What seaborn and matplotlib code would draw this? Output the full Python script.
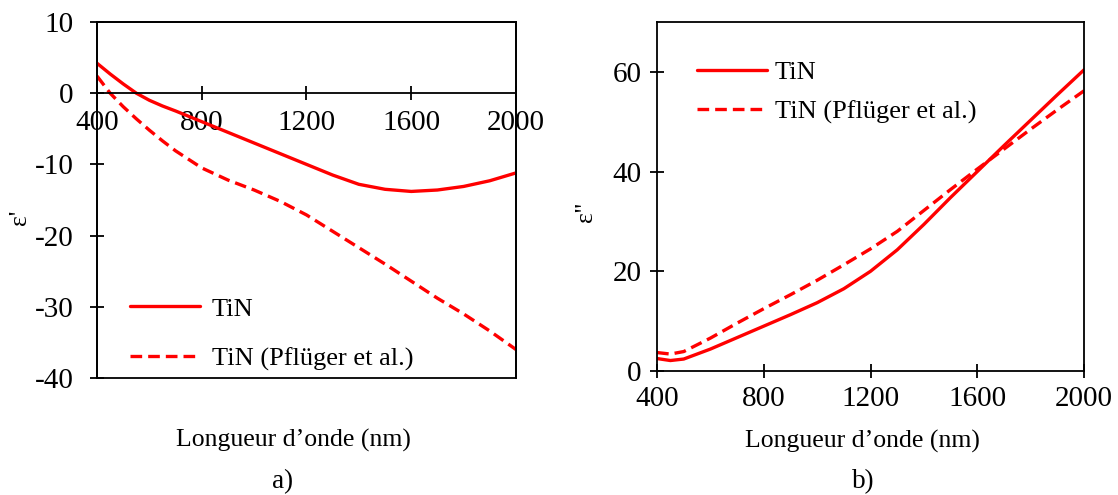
import matplotlib
matplotlib.use('Agg')
import matplotlib.pyplot as plt
import seaborn as sns
import pandas as pd

# longueurs d'onde (nm)
lambda_a = [400, 450, 500, 550, 600, 650, 700, 800, 900, 1000, 1100, 1200, 1300,
            1400, 1500, 1600, 1700, 1800, 1900, 2000]
lambda_b = [400, 450, 500, 600, 700, 800, 900, 1000, 1100, 1200, 1300, 1400,
            1500, 1600, 1700, 1800, 1900, 2000]

# partie réelle (a)
eps1_tin = [4.2, 2.7, 1.3, 0.0, -1.0, -1.8, -2.5, -4.0, -5.5, -7.0, -8.5, -10.0, -11.5,
            -12.8, -13.5, -13.8, -13.6, -13.1, -12.3, -11.2]
eps1_pfluger = [2.4, 0.0, -1.9, -3.6, -5.2, -6.7, -8.1, -10.5, -12.2, -13.6, -15.2, -17.1, -19.4,
                -21.7, -24.0, -26.4, -28.8, -31.0, -33.4, -36.0]

# partie imaginaire (b)
eps2_tin = [2.5, 2.1, 2.4, 4.4, 6.7, 9.0, 11.3, 13.7, 16.5, 20.0, 24.3, 29.4,
            34.8, 40.0, 45.2, 50.3, 55.4, 60.4]
eps2_pfluger = [3.7, 3.4, 3.9, 6.6, 9.6, 12.5, 15.3, 18.2, 21.3, 24.5, 28.0, 32.2,
                36.4, 40.5, 44.5, 48.5, 52.4, 56.2]

labels = ['TiN', 'TiN (Pflüger et al.)']
yticks_a = [10, 0, -10, -20, -30, -40]
yticks_b = [0, 20, 40, 60]
xticks = [400, 800, 1200, 1600, 2000]

df_a = pd.DataFrame({'x': lambda_a * 2, 'y': eps1_tin + eps1_pfluger,
                     'serie': [labels[0]] * len(lambda_a) + [labels[1]] * len(lambda_a)})
df_b = pd.DataFrame({'x': lambda_b * 2, 'y': eps2_tin + eps2_pfluger,
                     'serie': [labels[0]] * len(lambda_b) + [labels[1]] * len(lambda_b)})

sns.set_style('white')
plt.rcParams['font.family'] = ['Liberation Serif', 'DejaVu Serif']
plt.rcParams['text.color'] = 'black'
plt.rcParams['axes.labelcolor'] = 'black'
fs_tick = 21
fs_leg = 19
fs_lab = 18.5

fig = plt.figure(figsize=(11.18, 4.95), dpi=100)
ax1 = fig.add_axes([0.0868, 0.2364, 0.3747, 0.7192])
ax2 = fig.add_axes([0.5877, 0.2505, 0.3819, 0.7051])

dash_map = {labels[0]: '', labels[1]: (3.5, 1.8)}
pal = {labels[0]: '#ff0000', labels[1]: '#ff0000'}

for ax, df in [(ax1, df_a), (ax2, df_b)]:
    sns.lineplot(data=df, x='x', y='y', hue='serie', style='serie', palette=pal,
                 dashes=dash_map, linewidth=2.4, ax=ax, legend=True)
    for s in ax.spines.values():
        s.set_color('black')
        s.set_linewidth(1.3)
    ax.set_xlim(400, 2000)
    ax.set_xticks(xticks)
    ax.tick_params(axis='both', direction='inout', length=10, width=1.3,
                   labelsize=fs_tick, colors='black', bottom=True, left=True)
    ax.set_xlabel('')

# (a)
ax1.set_ylim(-40, 10)
ax1.set_yticks(yticks_a)
ax1.set_yticklabels([str(v) for v in yticks_a])
ax1.spines['bottom'].set_position(('data', 0))
ax1.patch.set_edgecolor('black')
ax1.patch.set_linewidth(1.3)
ax1.tick_params(axis='x', pad=7)
ax1.tick_params(axis='y', pad=12)
ax1.set_ylabel("ε'", fontsize=fs_lab)
ax1.yaxis.set_label_coords(-0.158, 0.452)
ax1.text(0.47, -0.143, 'Longueur d’onde (nm)', transform=ax1.transAxes,
         ha='center', va='top', fontsize=fs_lab)
ax1.legend(loc='lower left', bbox_to_anchor=(0.079, 0.02), frameon=False,
           fontsize=fs_leg, handlelength=2.65, handletextpad=0.45, labelspacing=1.0,
           borderpad=0, borderaxespad=0)

# (b)
ax2.set_ylim(0, 70)
ax2.set_yticks(yticks_b)
ax2.tick_params(axis='x', pad=6)
ax2.tick_params(axis='y', pad=6)
ax2.set_ylabel("ε''", fontsize=fs_lab)
ax2.yaxis.set_label_coords(-0.14, 0.456)
ax2.text(0.48, -0.168, 'Longueur d’onde (nm)', transform=ax2.transAxes,
         ha='center', va='top', fontsize=fs_lab)
ax2.legend(loc='upper left', bbox_to_anchor=(0.094, 0.89), frameon=False,
           fontsize=fs_leg, handlelength=2.65, handletextpad=0.28, labelspacing=0.6,
           borderpad=0, borderaxespad=0)

fig.text(0.253, 0.027, 'a)', ha='center', va='center', fontsize=fs_lab + 1)
fig.text(0.772, 0.027, 'b)', ha='center', va='center', fontsize=fs_lab + 1)

fig.savefig('out.png', dpi=100)
